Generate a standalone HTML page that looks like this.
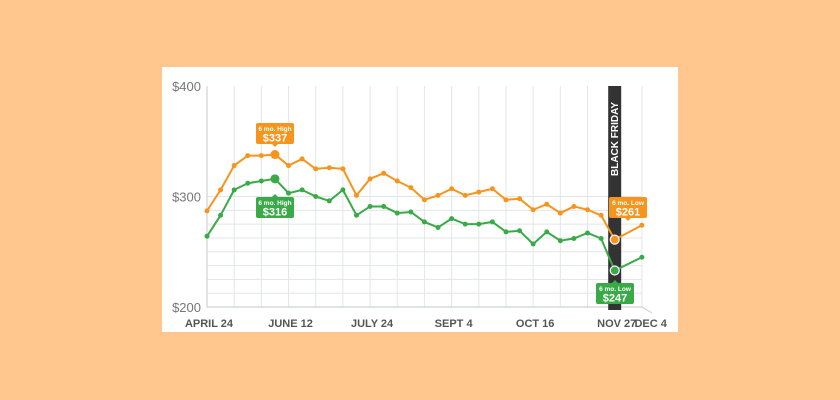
<!DOCTYPE html>
<html><head><meta charset="utf-8"><style>
body{margin:0;width:840px;height:400px;background:#ffc68d;overflow:hidden;font-family:"Liberation Sans",sans-serif}
#card{position:absolute;left:162px;top:67px;width:516px;height:265px;background:#fff}
svg{position:absolute;left:0;top:0}
</style></head><body>
<div id="card"></div>
<svg id="chart" width="840" height="400"></svg>
<script>
const xLabels=["APRIL 24","JUNE 12","JULY 24","SEPT 4","OCT 16","NOV 27","DEC 4"];
const xLabelIdx=[0,6,12,18,24,30,32.5];
const yTicks=[200,300,400];
const newPrice=[287,306,328,337,337,338,328,334,325,326,325,301,316,321,314,308,297,301,307,301,304,307,297,298,288,293,285,291,288,283,261,null,274];
const usedPrice=[264,283,306,312,314,316,303,306,300,296,306,283,291,291,285,286,277,272,280,275,275,277,268,269,257,268,260,262,267,262,233,null,245];
const NS="http://www.w3.org/2000/svg";
const svg=document.getElementById('chart');
const X=i=>207+i*13.59;
const Y=v=>307-(v-200)*1.105;
function mk(t,a){const e=document.createElementNS(NS,t);for(const k in a)e.setAttribute(k,a[k]);svg.appendChild(e);return e;}
// grid
for(let k=0;k<=16;k++){const e=mk('line',{x1:X(k*2),x2:X(k*2),y1:86,y2:307,stroke:'#e3e6e8','stroke-width':1});

}
for(let k=0;k<=8;k++){const v=200+k*12.5;const e=mk('line',{x1:207,x2:X(32),y1:Y(v),y2:Y(v),stroke:'#e3e6e8','stroke-width':1});

}
const ax=mk('polyline',{points:`207,86 207,307 ${X(32)},307 652,313`,fill:'none',stroke:'#cfd3d6','stroke-width':1.2});


// black friday band
const bf=mk('rect',{x:X(30)-6.5,y:86,width:13,height:224,fill:'#333'});


const bft=mk('text',{x:0,y:0,transform:`translate(${X(30)+3.5},176) rotate(-90)`,fill:'#fff','font-size':10,'font-weight':'bold'});
bft.textContent='BLACK FRIDAY';


// y labels
yTicks.forEach(v=>{const t=mk('text',{x:201,y:Y(v)+5,'text-anchor':'end',fill:'#777','font-size':13});t.textContent='$'+v;

});
xLabels.forEach((s,i)=>{const t=mk('text',{x:X(xLabelIdx[i])+2,y:327,'text-anchor':'middle',fill:'#555','font-size':11,'font-weight':'bold'});t.textContent=s;

});
function series(data,color,name){
 const pts=[];data.forEach((v,i)=>{if(v!=null)pts.push(X(i)+','+Y(v));});
 const l=mk('polyline',{points:pts.join(' '),fill:'none',stroke:color,'stroke-width':2,'stroke-linejoin':'round'});
 
 
 data.forEach((v,i)=>{if(v==null)return;const big=(i==5||i==30);
  const c=mk('circle',{cx:X(i),cy:Y(v),r:big?4.5:2.5,fill:color,stroke:i==30?'#fff':'none','stroke-width':1.2});
  
  });
}
series(newPrice,'#f7941d','new-price');
series(usedPrice,'#3aaa49','used-price');
function callout(x,y,color,l1,l2,name,up){
 const w=38,h=21;
 const r=mk('rect',{x:x,y:y,width:w,height:h,rx:2,fill:color});
 
 
 const ty=up?y+h:y;const p=mk('polygon',{points:up?`${x+w/2-3},${ty} ${x+w/2+3},${ty} ${x+w/2},${ty+3}`:`${x+w/2-3},${ty} ${x+w/2+3},${ty} ${x+w/2},${ty-3}`,fill:color});
 
 
 const a=mk('text',{x:x+w/2,y:y+8,'text-anchor':'middle',fill:'#fff','font-size':6.5,'font-weight':'bold'});a.textContent=l1;
 
 
 const b=mk('text',{x:x+w/2,y:y+18.5,'text-anchor':'middle',fill:'#fff','font-size':11,'font-weight':'bold'});b.textContent=l2;
 
 
}
callout(256,123,'#f7941d','6 mo. High','$337','new-high-callout',true);
callout(256,197,'#3aaa49','6 mo. High','$316','used-high-callout',false);
callout(609,197,'#f7941d','6 mo. Low','$261','new-low-callout',true);
callout(596,283,'#3aaa49','6 mo. Low','$247','used-low-callout',false);
</script>
</body></html>
